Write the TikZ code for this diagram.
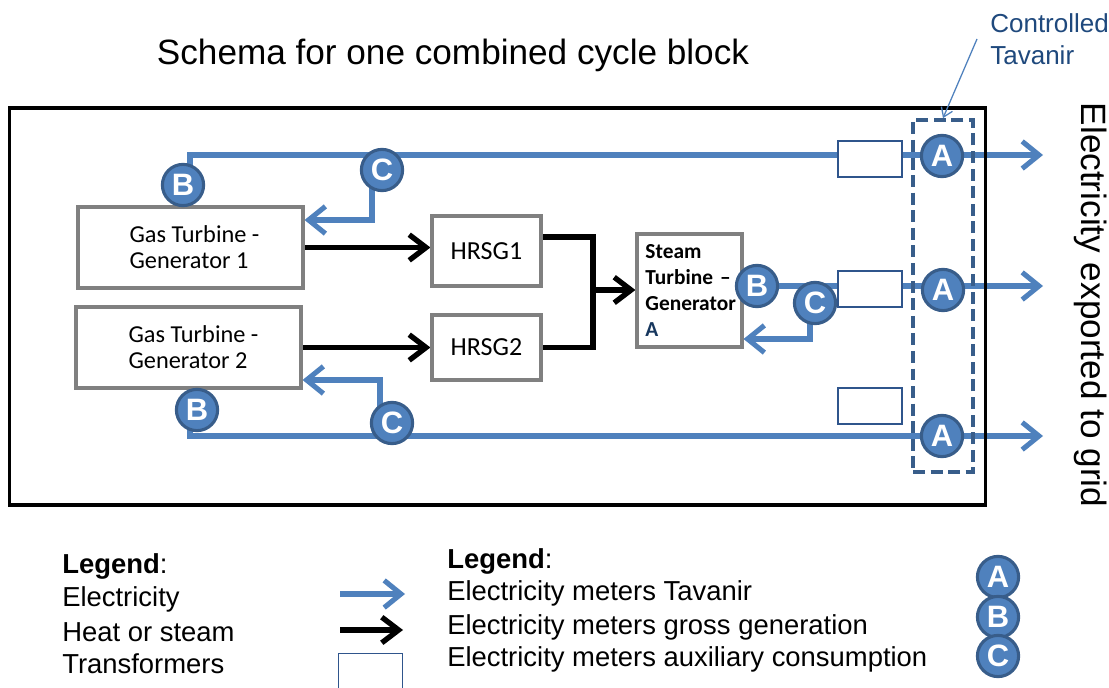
\documentclass[tikz,border=0pt]{standalone}
\usepackage{fontspec}
\setmainfont{Liberation Sans}
\newfontfamily\calibri{Carlito}
\usetikzlibrary{arrows.meta,calc,backgrounds}
\definecolor{elecblue}{RGB}{79,129,189}
\definecolor{meterblue}{RGB}{56,93,138}
\definecolor{trafoblue}{RGB}{47,85,140}
\definecolor{txtblue}{RGB}{31,73,125}
\definecolor{boxgray}{RGB}{128,128,128}
\definecolor{navy}{RGB}{23,55,94}
\tikzset{
  elec/.style={draw=elecblue, line width=3.6pt},
  elecarrow/.style={elec, -{Straight Barb[length=0.42cm, width=0.68cm]}},
  heat/.style={draw=black, line width=3.8pt, line join=miter},
  heatarrow/.style={heat, -{Straight Barb[length=0.42cm, width=0.64cm]}},
  gbox/.style={draw=boxgray, line width=2.2pt, fill=white, inner sep=0pt},
  trafo/.style={draw=trafoblue, line width=1pt, fill=white, minimum width=1.6cm, minimum height=0.9cm, inner sep=0pt},
  meter/.style={circle, fill=elecblue, draw=meterblue, line width=2.2pt, minimum size=1.03cm, inner sep=0pt, text=white, font=\fontsize{22}{22}\selectfont\bfseries},
  lbl/.style={anchor=west, inner sep=0pt, font=\fontsize{19.5}{22}\selectfont},
}
\begin{document}
\begin{tikzpicture}[x=0.025cm, y=-0.025cm]
\useasboundingbox (0,0) rectangle (1109,688);

% title
\node[font=\fontsize{25}{30}\selectfont] (title) at (453,55) {Schema for one combined cycle block};

% block frame
\node[draw=black, line width=2.3pt, minimum width=24.375cm, minimum height=9.925cm, inner sep=0pt] (block) at (497.5,306.5) {};

% controlled by Tavanir
\node[draw=meterblue, dash pattern=on 8.5pt off 4pt, line width=2.6pt, minimum width=1.5cm, minimum height=8.8cm, inner sep=0pt] (ctrl) at (943,296) {};
\node[anchor=west, text=txtblue, align=left, inner sep=0pt, font=\fontsize{18.5}{23}\selectfont] (ctxt) at (990,39) {Controlled\\Tavanir};
\draw[draw=elecblue, line width=0.9pt, -{Straight Barb[length=0.22cm, width=0.3cm]}] ($(ctxt.west)+(-13,0)$) -- (ctrl.north);

% units
\node[gbox, minimum width=5.625cm, minimum height=2.025cm, align=left, font=\calibri\fontsize{17.3}{18.5}\selectfont] (GT1) at (190.5,247.5) {\hspace*{0.2cm}Gas Turbine -\\\hspace*{0.2cm}Generator 1};
\node[gbox, minimum width=5.625cm, minimum height=2.025cm, align=left, font=\calibri\fontsize{17.3}{18.5}\selectfont] (GT2) at (188.5,347.5) {\hspace*{0.25cm}Gas Turbine -\\\hspace*{0.25cm}Generator 2};
\node[gbox, minimum width=2.725cm, minimum height=1.75cm, font=\calibri\fontsize{18.5}{20}\selectfont] (H1) at (486.5,251) {HRSG1};
\node[gbox, minimum width=2.725cm, minimum height=1.625cm, font=\calibri\fontsize{18.5}{20}\selectfont] (H2) at (486.5,347.5) {HRSG2};
\node[gbox, minimum width=2.625cm, minimum height=2.825cm, text width=2.2cm, inner xsep=0.2cm, align=left, font=\calibri\bfseries\fontsize{15.2}{18.5}\selectfont] (STG) at (689.5,290.5) {Steam\\Turbine –\\Generator\\\textcolor{navy}{A}};

% transformers
\node[trafo] (T1) at (870,159) {};
\node[trafo] (T2) at (870,289) {};
\node[trafo] (T3) at (870,406) {};

% meters
\node[meter] (A1) at (942,156) {A};
\node[meter] (A2) at (943,290) {A};
\node[meter] (A3) at (942,436) {A};
\node[meter] (B1) at (183,185) {B};
\node[meter] (B2) at (197,410) {B};
\node[meter] (B3) at (757,286) {B};
\node[meter] (C1) at (382,170) {C};
\node[meter] (C2) at (392,423) {C};
\node[meter] (C3) at (815,303) {C};

% free ends
\coordinate (out1) at (1043,155);
\coordinate (out2) at (1043,286);
\coordinate (out3) at (1043,436);
\coordinate (c1top) at (372,155);
\coordinate (c1bend) at (372,220);
\coordinate (c2bot) at (380,436);
\coordinate (c2bend) at (380,380);
\coordinate (c3top) at (810,286);
\coordinate (c3bend) at (810,339);
\coordinate (hj) at (593,290);

% vertical text
\node[rotate=-90, inner sep=0pt, font=\fontsize{25}{30}\selectfont] (grid) at (1091,305) {Electricity exported to grid};

% legend
\node[lbl] (lg1) at (62,566) {\textbf{Legend}:};
\node[lbl] (lg2) at (62,599) {Electricity};
\node[lbl] (lg3) at (62,632) {Heat or steam};
\node[lbl] (lg4) at (62,664) {Transformers};
\node[lbl] (lr1) at (447,561) {\textbf{Legend}:};
\node[lbl] (lr2) at (447,593) {Electricity meters Tavanir};
\node[lbl] (lr3) at (447,627) {Electricity meters gross generation};
\node[lbl] (lr4) at (447,659) {Electricity meters auxiliary consumption};
\node[meter] (LA) at (998,577) {A};
\node[meter] (LB) at (998,617) {B};
\node[meter] (LC) at (998,656) {C};
\node[trafo, anchor=north west, minimum height=1.3cm] (LT) at (338,653) {};
\coordinate (le1s) at (340,594);
\coordinate (le1e) at (405,594);
\coordinate (lh1s) at (340,630);
\coordinate (lh1e) at (403,630);

\begin{scope}[on background layer]
  \fill[white] (0,0) rectangle (1109,688);
  % electricity
  \draw[elecarrow] ($(B1)+(7,0)$) |- (out1);
  \draw[elecarrow] (B3) -- (out2);
  \draw[elecarrow] ($(B2)+(-7,0)$) |- (out3);
  \draw[elecarrow] (c1top) -- (c1bend) -- (GT1.east |- c1bend);
  \draw[elecarrow] (c2bot) -- (c2bend) -- (GT2.east |- c2bend);
  \draw[elecarrow] (c3top) -- (c3bend) -- (STG.east |- c3bend);
  % heat
  \draw[heatarrow] (GT1.east) -- (GT1.east -| H1.west);
  \draw[heatarrow] (GT2.east) -- (GT2.east -| H2.west);
  \draw[heat] ($(H1.east)+(0,-14)$) -| (hj) |- (H2.east);
  \draw[heatarrow] (hj) -- (STG.west |- hj);
  % legend arrows
  \draw[elecarrow] (le1s) -- (le1e);
  \draw[heatarrow] (lh1s) -- (lh1e);
\end{scope}
\end{tikzpicture}
\end{document}
